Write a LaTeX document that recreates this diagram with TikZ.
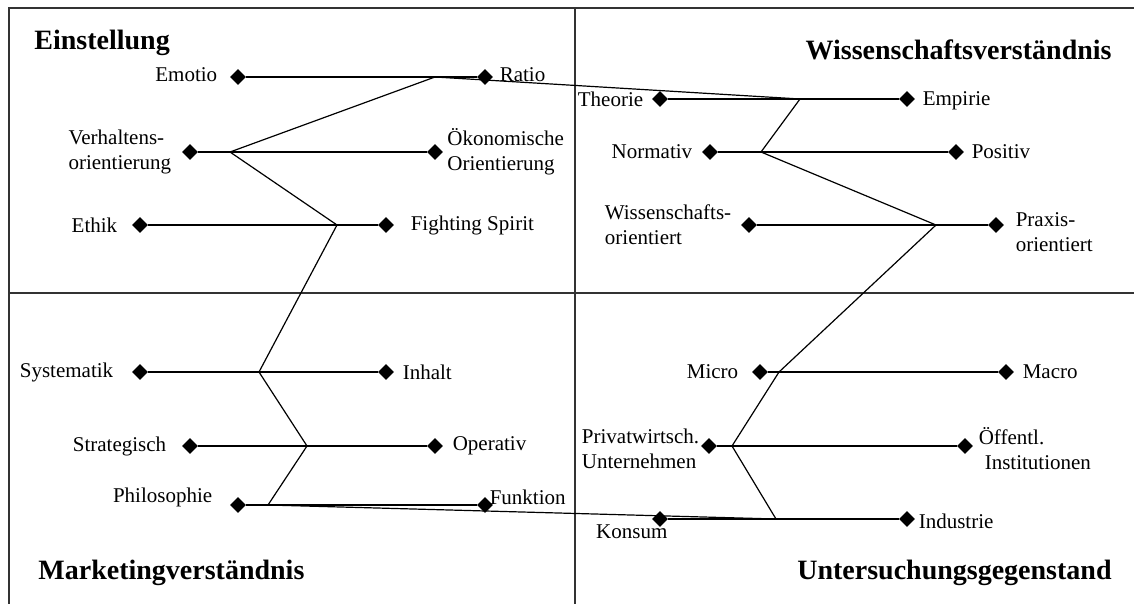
\documentclass[tikz,border=0pt]{standalone}
\usepackage{fontspec}
\setmainfont{Liberation Serif}
\usetikzlibrary{shapes.geometric,positioning}

\begin{document}
\begin{tikzpicture}[x=0.5pt,y=-0.5pt]
	\tikzstyle{every node}+=[inner sep=0pt]
	\tikzstyle{pole}=[diamond, fill=black, minimum size=8pt]
	\tikzstyle{lbl}=[font=\fontsize{10.5}{12.5}\selectfont, align=left]
	\tikzstyle{titel}=[font=\fontsize{14}{16}\selectfont\bfseries]
	\tikzstyle{quadline}=[black!80, line width=0.7pt]
	\tikzstyle{pairline}=[black, line width=0.6pt]
	\useasboundingbox (0,0) rectangle (1134,604);
	% quadrants
	\draw [quadline] (1134,8) -- (9,8) -- (9,604);
	\draw [quadline] (9,293) -- (1134,293);
	\draw [quadline] (575,8) -- (575,604);
	\node [titel, anchor=west] (tEinst) at (34,43) {Einstellung};
	\node [titel, anchor=east] (tWiss) at (1112,50) {Wissenschaftsverständnis};
	\node [titel, anchor=west] (tMark) at (38,573) {Marketingverständnis};
	\node [titel, anchor=east] (tUnters) at (1112,573) {Untersuchungsgegenstand};
	% Einstellung
	\node [pole] (emotio) at (238,77) {};
	\node [pole] (ratio) at (485,77) {};
	\node [pole] (verhalten) at (190,152) {};
	\node [pole] (oekonom) at (435,152) {};
	\node [pole] (ethik) at (140,225) {};
	\node [pole] (fighting) at (386,225) {};
	\node [lbl, left=6pt of emotio, yshift=1pt] (lEmotio) {Emotio};
	\node [lbl, right=3pt of ratio, yshift=1pt] (lRatio) {Ratio};
	\node [lbl, left=5pt of verhalten] (lVerhalten) {Verhaltens-\\orientierung};
	\node [lbl, right=1.8pt of oekonom] (lOekonom) {Ökonomische\\Orientierung};
	\node [lbl, left=7pt of ethik] (lEthik) {Ethik};
	\node [lbl, right=8pt of fighting] (lFighting) {Fighting Spirit};
	% Marketingverstaendnis
	\node [pole] (systematik) at (140,372) {};
	\node [pole] (inhalt) at (386,372) {};
	\node [pole] (strategisch) at (190,446) {};
	\node [pole] (operativ) at (435,446) {};
	\node [pole] (philosophie) at (238,505) {};
	\node [pole] (funktion) at (485,505) {};
	\node [lbl, left=9pt of systematik] (lSystematik) {Systematik};
	\node [lbl, right=4pt of inhalt] (lInhalt) {Inhalt};
	\node [lbl, left=7.5pt of strategisch] (lStrategisch) {Strategisch};
	\node [lbl, right=4.5pt of operativ] (lOperativ) {Operativ};
	\node [lbl, left=8.5pt of philosophie, yshift=4pt] (lPhilosophie) {Philosophie};
	\node [lbl, right=-2pt of funktion, yshift=4pt] (lFunktion) {Funktion};
	% Wissenschaftsverstaendnis
	\node [pole] (theorie) at (660,99) {};
	\node [pole] (empirie) at (907,99) {};
	\node [pole] (normativ) at (710,152) {};
	\node [pole] (positiv) at (956,152) {};
	\node [pole] (wissorient) at (749,225) {};
	\node [pole] (praxis) at (996,225) {};
	\node [lbl, left=4pt of theorie] (lTheorie) {Theorie};
	\node [lbl, right=3.5pt of empirie, yshift=-1pt] (lEmpirie) {Empirie};
	\node [lbl, left=4.5pt of normativ] (lNormativ) {Normativ};
	\node [lbl, right=3.5pt of positiv] (lPositiv) {Positiv};
	\node [lbl, left=4.5pt of wissorient] (lWissorient) {Wissenschafts-\\orientiert};
	\node [lbl, right=5.5pt of praxis, yshift=-3.5pt] (lPraxis) {Praxis-\\orientiert};
	% Untersuchungsgegenstand
	\node [pole] (micro) at (760,372) {};
	\node [pole] (macro) at (1006,372) {};
	\node [pole] (privat) at (709,446) {};
	\node [pole] (oeffentl) at (965,446) {};
	\node [pole] (konsum) at (660,519) {};
	\node [pole] (industrie) at (907,519) {};
	\node [lbl, left=6.5pt of micro] (lMicro) {Micro};
	\node [lbl, right=4pt of macro] (lMacro) {Macro};
	\node [lbl, left=0.5pt of privat, yshift=-1.5pt] (lPrivat) {Privatwirtsch.\\Unternehmen};
	\node [lbl, right=2.5pt of oeffentl, yshift=-1.5pt] (lOeffentl) {Öffentl.\\\hspace*{3pt}Institutionen};
	\node [lbl, below left=0.5pt and -6pt of konsum] (lKonsum) {Konsum};
	\node [lbl, right=1.5pt of industrie, yshift=-1pt] (lIndustrie) {Industrie};
	% pairs
	\draw [pairline] (emotio) -- (ratio);
	\draw [pairline] (verhalten) -- (oekonom);
	\draw [pairline] (ethik) -- (fighting);
	\draw [pairline] (systematik) -- (inhalt);
	\draw [pairline] (strategisch) -- (operativ);
	\draw [pairline] (philosophie) -- (funktion);
	\draw [pairline] (theorie) -- (empirie);
	\draw [pairline] (normativ) -- (positiv);
	\draw [pairline] (wissorient) -- (praxis);
	\draw [pairline] (micro) -- (macro);
	\draw [pairline] (privat) -- (oeffentl);
	\draw [pairline] (konsum) -- (industrie);
	% profile
	\coordinate (jE1) at (435,77);
	\coordinate (jE2) at (230,152);
	\coordinate (jE3) at (337,225);
	\coordinate (jM1) at (259,372);
	\coordinate (jM2) at (307,446);
	\coordinate (jM3) at (268,505);
	\coordinate (jW1) at (800,99);
	\coordinate (jW2) at (761,152);
	\coordinate (jW3) at (936,225);
	\coordinate (jU1) at (779,372);
	\coordinate (jU2) at (732,446);
	\coordinate (jU3) at (776,519);
	\draw [pairline] (jE1) -- (jE2) -- (jE3) -- (jM1) -- (jM2) -- (jM3) -- (jU3) -- (jU2) -- (jU1) -- (jW3) -- (jW2) -- (jW1) -- cycle;
\end{tikzpicture}
\end{document}
